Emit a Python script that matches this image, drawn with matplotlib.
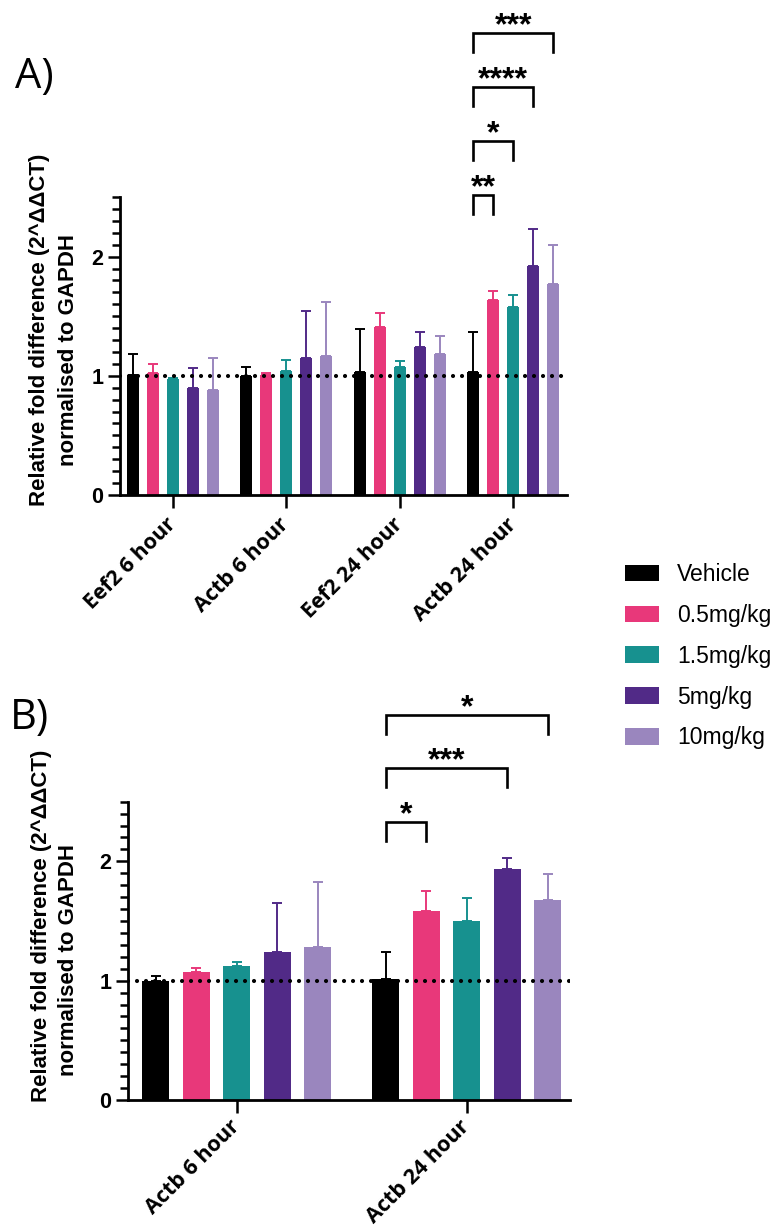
import numpy as np
import matplotlib
matplotlib.use('Agg')
import matplotlib.pyplot as plt
from matplotlib.patches import Patch
from matplotlib.ticker import MultipleLocator

# ---- data ----
treatments = ['Vehicle', '0.5mg/kg', '1.5mg/kg', '5mg/kg', '10mg/kg']
colors = ['#000000', '#E8387A', '#17918F', '#512A87', '#9A86BE']

groups_a = ['Eef2 6 hour', 'Actb 6 hour', 'Eef2 24 hour', 'Actb 24 hour']
vehicle_a = [1.01, 1.00, 1.03, 1.03]
dose05_a = [1.02, 1.01, 1.41, 1.64]
dose15_a = [0.97, 1.04, 1.07, 1.58]
dose5_a = [0.90, 1.15, 1.24, 1.92]
dose10_a = [0.88, 1.17, 1.18, 1.77]
vehicle_a_err = [0.17, 0.07, 0.36, 0.34]
dose05_a_err = [0.08, 0.01, 0.12, 0.07]
dose15_a_err = [0.01, 0.09, 0.05, 0.10]
dose5_a_err = [0.165, 0.39, 0.13, 0.31]
dose10_a_err = [0.27, 0.45, 0.15, 0.33]

groups_b = ['Actb 6 hour', 'Actb 24 hour']
vehicle_b = [1.00, 1.01]
dose05_b = [1.07, 1.58]
dose15_b = [1.12, 1.50]
dose5_b = [1.24, 1.94]
dose10_b = [1.28, 1.675]
vehicle_b_err = [0.04, 0.23]
dose05_b_err = [0.04, 0.17]
dose15_b_err = [0.04, 0.19]
dose5_b_err = [0.41, 0.09]
dose10_b_err = [0.55, 0.215]

# significance: (group, vs treatment index, label, bracket top)
sig_a = [(3, 1, '**', 2.52), (3, 2, '*', 2.97), (3, 3, '****', 3.42), (3, 4, '***', 3.88)]
sig_b = [(1, 1, '*', 2.33), (1, 3, '***', 2.78), (1, 4, '*', 3.23)]

means_a = [vehicle_a, dose05_a, dose15_a, dose5_a, dose10_a]
errs_a = [vehicle_a_err, dose05_a_err, dose15_a_err, dose5_a_err, dose10_a_err]
means_b = [vehicle_b, dose05_b, dose15_b, dose5_b, dose10_b]
errs_b = [vehicle_b_err, dose05_b_err, dose15_b_err, dose5_b_err, dose10_b_err]

W, H = 776, 1232
fig = plt.figure(figsize=(W / 100, H / 100), dpi=100)

tick_font = 'Open Sans'
arial = 'Liberation Sans'


def panel(rect, groups, means, errs, sigs, xlim, slot, width, xpad):
    ax = fig.add_axes(rect)
    x = np.arange(len(groups))
    for i, (m, e, c) in enumerate(zip(means, errs, colors)):
        xs = x + (i - 2) * slot
        ax.bar(xs, m, width=width, color=c, zorder=2)
        ax.errorbar(xs, m, yerr=[np.zeros(len(e)), e], fmt='none', ecolor=c,
                    elinewidth=1.4, capsize=3.4, capthick=1.4, zorder=2)
    ln = ax.axhline(1, color='black', lw=3.0, linestyle=(0, (0.01, 2.15)), zorder=4)
    ln.set_dash_capstyle('round')

    for g, j, lab, top in sigs:
        x0 = g - 2 * slot
        x1 = g + (j - 2) * slot
        ax.plot([x0, x0, x1, x1], [top - 0.16, top, top, top - 0.16], color='black',
                lw=1.9, clip_on=False, solid_joinstyle='miter')
        fs = 23
        ax.annotate(lab, xy=((x0 + x1) / 2, top + 0.15), xytext=(0, -0.6 * fs),
                    textcoords='offset points', ha='center', va='baseline',
                    fontsize=fs, fontweight='bold', family=arial, annotation_clip=False)

    ax.set_xlim(*xlim)
    ax.set_ylim(0, 2.5)
    for s in ['top', 'right']:
        ax.spines[s].set_visible(False)
    for s in ['left', 'bottom']:
        ax.spines[s].set_linewidth(2)
    ax.yaxis.set_major_locator(MultipleLocator(1))
    ax.yaxis.set_minor_locator(MultipleLocator(0.1))
    ax.tick_params(axis='y', which='major', length=9, width=1.8, labelsize=15.5, pad=3)
    ax.tick_params(axis='y', which='minor', length=5.5, width=1.8)
    ax.tick_params(axis='x', which='major', length=9, width=1.8, pad=xpad)
    for t in ax.get_yticklabels():
        t.set_fontweight('bold')
        t.set_family(arial)
    ax.set_xticks(x)
    ax.set_xticklabels(groups, rotation=45, ha='right', va='center',
                       rotation_mode='anchor', fontsize=15.5, fontweight='bold',
                       family=tick_font)
    return ax


panel([120 / W, 1 - 495 / H, 447 / W, 298 / H], groups_a, means_a, errs_a, sig_a,
      (-0.464, 3.474), 0.1762, 0.108, 10)
panel([128 / W, 1 - 1100 / H, 442 / W, 298.3 / H], groups_b, means_b, errs_b, sig_b,
      (-0.4726, 1.449), 0.176, 0.116, 8)

# y labels
line1 = 'Relative fold difference (2^\u0394\u0394CT)'
line2 = 'normalised to GAPDH'
for (x1, y1, x2, y2) in [(40, 330, 68, 350), (42, 926, 68, 960)]:
    fig.text(x1 / W, 1 - y1 / H, line1, rotation=90, ha='center', va='center',
             fontsize=16, fontweight='bold', family=arial)
    fig.text(x2 / W, 1 - y2 / H, line2, rotation=90, ha='center', va='center',
             fontsize=16, fontweight='bold', family=arial)

# panel letters
fig.text(15 / W, 1 - 88 / H, 'A)', fontsize=30, family='Open Sans', va='baseline')
fig.text(10 / W, 1 - 729 / H, 'B)', fontsize=30, family='Open Sans', va='baseline')

handles = [Patch(facecolor=c, edgecolor='none', label=t) for c, t in zip(colors, treatments)]
fig.legend(handles=handles, loc='upper left', bbox_to_anchor=(625 / W, 1 - 563 / H),
           frameon=False, prop={'family': arial, 'size': 16.5},
           handlelength=1.5, handleheight=0.74, labelspacing=0.78, handletextpad=0.78,
           borderaxespad=0, borderpad=0)

fig.savefig('out.png', dpi=100)
